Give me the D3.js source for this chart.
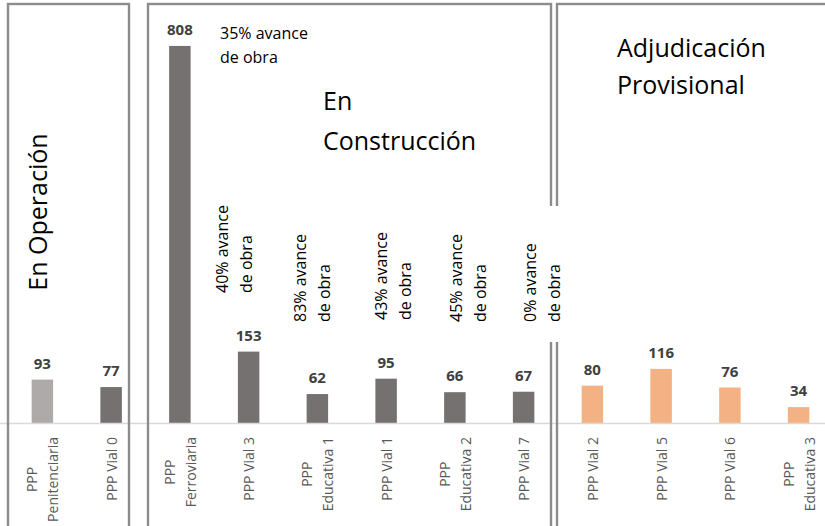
<!DOCTYPE html>
<html>
<head>
<meta charset="utf-8">
<script src="https://cdn.jsdelivr.net/npm/d3@7"></script>
<style>
  body { margin: 0; background: #fff; }
  svg { display: block; font-family: "Open Sans", sans-serif; }
</style>
</head>
<body>
<div id="chart"></div>
<script>
const width = 825;
const height = 526;

// data
const categories = [
  "PPP\nPenitenciaria", "PPP Vial 0", "PPP\nFerroviaria", "PPP Vial 3",
  "PPP\nEducativa 1", "PPP Vial 1", "PPP\nEducativa 2", "PPP Vial 7",
  "PPP Vial 2", "PPP Vial 5", "PPP Vial 6", "PPP\nEducativa 3"
];
const values = [93, 77, 808, 153, 62, 95, 66, 67, 80, 116, 76, 34];
const estado = [
  "operación", "obra", "obra", "obra", "obra", "obra", "obra", "obra",
  "adjudicación", "adjudicación", "adjudicación", "adjudicación"
];
const avance = [null, null, 35, 40, 83, 43, 45, 0, null, null, null, null];
const stages = ["En Operación", "En\nConstrucción", "Adjudicación\nProvisional"];

const colors = d3.scaleOrdinal()
  .domain(["operación", "obra", "adjudicación"])
  .range(["#aeaaaa", "#767171", "#f4b183"]);

const svg = d3.select("#chart").append("svg")
  .attr("width", width)
  .attr("height", height);

// scales
const x = d3.scaleBand()
  .domain(categories)
  .range([8, 833])
  .paddingInner(0.6875)
  .paddingOuter(0.34375);

const y = d3.scaleLinear()
  .domain([0, 900])
  .range([423, 3]);

const cx = d => x(d) + x.bandwidth() / 2;

// bars
svg.append("g")
  .selectAll("rect")
  .data(values)
  .join("rect")
  .attr("x", (d, i) => x(categories[i]))
  .attr("y", d => y(d))
  .attr("width", x.bandwidth())
  .attr("height", d => y(0) - y(d))
  .attr("fill", (d, i) => colors(estado[i]));

// baseline
svg.append("line")
  .attr("x1", 0)
  .attr("x2", width)
  .attr("y1", y(0) + 0.5)
  .attr("y2", y(0) + 0.5)
  .attr("stroke", "#d9d9d9")
  .attr("stroke-width", 1.5);

// value labels
svg.append("g")
  .selectAll("text")
  .data(values)
  .join("text")
  .attr("x", (d, i) => cx(categories[i]))
  .attr("y", d => y(d) - 11)
  .attr("text-anchor", "middle")
  .attr("fill", "#404040")
  .style("font-size", "15px")
  .style("font-weight", "bold")
  .text(d => d);

// category labels, rotated, block ends just under the axis
const tickTop = 437;
const lineGap = 21;
svg.append("g")
  .selectAll("text")
  .data(categories)
  .join("text")
  .attr("transform", d => `translate(${cx(d)},${tickTop}) rotate(-90)`)
  .attr("fill", "#595959")
  .style("font-size", "14px")
  .each(function (d) {
    const t = d3.select(this);
    const lines = d.split("\n");
    const spans = lines.map((l, i) => t.append("tspan")
      .attr("y", (i - (lines.length - 1) / 2) * lineGap)
      .attr("dominant-baseline", "central")
      .attr("text-anchor", "middle")
      .text(l));
    const len = d3.max(spans, s => s.node().getComputedTextLength());
    spans.forEach(s => s.attr("x", -len / 2));
  });

// stage boxes (hand placed, open at the bottom)
const boxes = [
  { x0: 8, x1: 129 },
  { x0: 148, x1: 551 },
  { x0: 557, x1: 840 }
];
svg.append("g")
  .selectAll("rect")
  .data(boxes)
  .join("rect")
  .attr("x", d => d.x0)
  .attr("y", 4)
  .attr("width", d => d.x1 - d.x0)
  .attr("height", 560)
  .attr("fill", "none")
  .attr("stroke", "#8c8c8c")
  .attr("stroke-width", 2.4);

// stage titles
svg.append("text")
  .attr("transform", "translate(47,212) rotate(-90)")
  .attr("text-anchor", "middle")
  .attr("fill", "#000")
  .style("font-size", "25px")
  .text(stages[0]);

const titlePos = [null, { x: 323, y: 110, gap: 40 }, { x: 617, y: 57, gap: 37 }];
[1, 2].forEach(k => {
  const t = svg.append("text")
    .attr("fill", "#000")
    .style("font-size", "25px");
  stages[k].split("\n").forEach((l, i) => {
    t.append("tspan")
      .attr("x", titlePos[k].x)
      .attr("y", titlePos[k].y + i * titlePos[k].gap)
      .text(l);
  });
});

// progress notes
const noteLines = p => [`${p}% avance`, "de obra"];

// white box behind the last note, hides the borders
svg.append("rect")
  .attr("x", 540)
  .attr("y", 206)
  .attr("width", 26)
  .attr("height", 136)
  .attr("fill", "#fff");

// first note is horizontal, the others are rotated
const ferro = svg.append("text")
  .attr("fill", "#000")
  .style("font-size", "16px");
noteLines(avance[2]).forEach((l, i) => {
  ferro.append("tspan")
    .attr("x", 220)
    .attr("y", 39 + i * 24)
    .text(l);
});

// offsets of each rotated note from its bar centre: [dx first line, bottom y]
const notePos = { 3: [-27, 293], 4: [-17, 322], 5: [-5, 320], 6: [1, 322], 7: [6, 322] };
Object.keys(notePos).forEach(k => {
  const [dx, y0] = notePos[k];
  const t = svg.append("text")
    .attr("transform", `translate(${cx(categories[k]) + dx},${y0}) rotate(-90)`)
    .attr("fill", "#000")
    .style("font-size", "16px");
  noteLines(avance[k]).forEach((l, i) => {
    t.append("tspan")
      .attr("x", 0)
      .attr("y", i * 24)
      .attr("dominant-baseline", "central")
      .text(l);
  });
});
</script>
</body>
</html>
